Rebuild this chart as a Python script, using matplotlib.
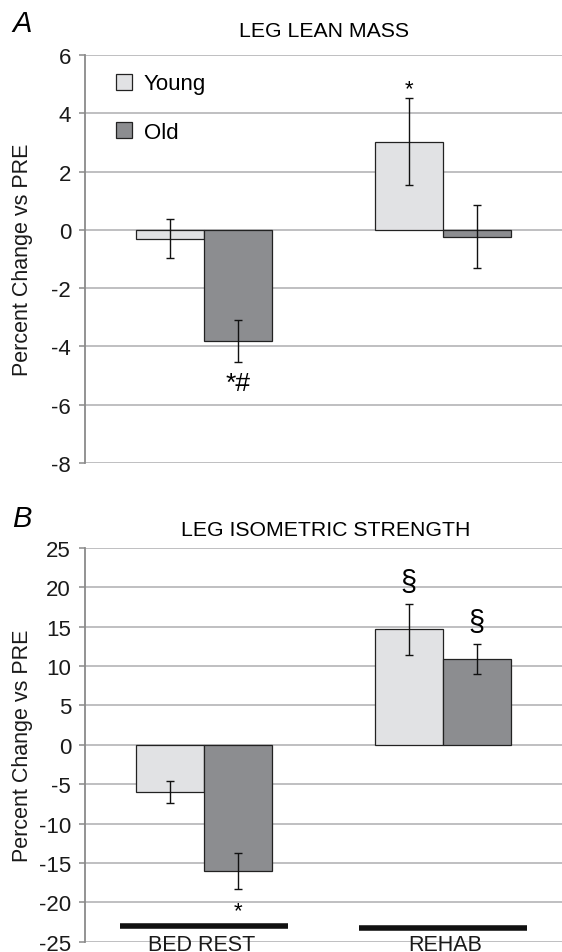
import numpy as np
import matplotlib
matplotlib.use('Agg')
import matplotlib.pyplot as plt
from matplotlib.patches import Patch

plt.rcParams['font.family'] = ['Liberation Sans', 'DejaVu Sans']

groups = ['BED REST', 'REHAB']
series = ['Young', 'Old']

# panel A: leg lean mass (% change vs PRE)
leanYoung = [-0.30, 3.03]
leanOld = [-3.81, -0.24]
leanYoungErr = [0.67, 1.50]
leanOldErr = [0.73, 1.08]

# panel B: leg isometric strength (% change vs PRE)
strYoung = [-6.0, 14.7]
strOld = [-16.0, 10.9]
strYoungErr = [1.4, 3.25]
strOldErr = [2.25, 1.9]

colYoung = '#e1e2e4'
colOld = '#8c8d90'
gridCol = '#aeaeb0'
barW = 0.285

fig = plt.figure(figsize=(5.62, 9.53), dpi=100)
axA = fig.add_axes([0.1512, 0.5131, 0.8488, 0.4281])
axB = fig.add_axes([0.1512, 0.0108, 0.8488, 0.4131])

x = np.arange(len(groups))


def style(ax, ylim, yticks):
    ax.set_xlim(-0.5, 1.5)
    ax.set_ylim(*ylim)
    ax.set_yticks(yticks)
    ax.set_yticklabels([str(t) for t in yticks], fontsize=16)
    ax.set_xticks([])
    ax.set_axisbelow(True)
    ax.grid(axis='y', color=gridCol, lw=1.1)
    for s in ['top', 'right', 'bottom']:
        ax.spines[s].set_visible(False)
    ax.spines['left'].set_color('#8a8a8a')
    ax.spines['left'].set_linewidth(1.3)
    ax.tick_params(axis='y', length=4.5, width=1.1, color='#8a8a8a', pad=5.5, labelcolor='#1a1a1a')
    ax.set_ylabel('Percent Change vs PRE', fontsize=15.5, color='#1a1a1a')
    ax.yaxis.set_label_coords(-0.108, 0.5)


def bars(ax, young, old, ye, oe):
    ax.bar(x - barW / 2, young, barW, color=colYoung, edgecolor='#222222', lw=0.9)
    ax.bar(x + barW / 2, old, barW, color=colOld, edgecolor='#222222', lw=0.9)
    ax.errorbar(x - barW / 2, young, yerr=ye, fmt='none', ecolor='#111111', elinewidth=1, capsize=3, capthick=1)
    ax.errorbar(x + barW / 2, old, yerr=oe, fmt='none', ecolor='#111111', elinewidth=1, capsize=3, capthick=1)


# ---- panel A
style(axA, (-8, 6), [6, 4, 2, 0, -2, -4, -6, -8])
bars(axA, leanYoung, leanOld, leanYoungErr, leanOldErr)
axA.text(x[1] - barW / 2, 4.85, '*', ha='center', va='center', fontsize=16)
axA.text(x[0] + barW / 2, -5.25, '*#', ha='center', va='center', fontsize=19)
handles = [Patch(facecolor=colYoung, edgecolor='#222222', lw=0.9),
           Patch(facecolor=colOld, edgecolor='#222222', lw=0.9)]
axA.legend(handles, series, loc='upper left', bbox_to_anchor=(0.066, 0.955), frameon=False,
           borderaxespad=0, borderpad=0, fontsize=16, handlelength=0.72, handleheight=0.72,
           handletextpad=0.5, labelspacing=1.23)
fig.text(0.577, 0.967, 'LEG LEAN MASS', ha='center', va='center', fontsize=15.3)
fig.text(0.022, 0.975, 'A', ha='left', va='center', fontsize=21, style='italic')

# ---- panel B
style(axB, (-25, 25), [25, 20, 15, 10, 5, 0, -5, -10, -15, -20, -25])
bars(axB, strYoung, strOld, strYoungErr, strOldErr)
axB.text(x[1] - barW / 2, 20.7, '§', ha='center', va='center', fontsize=21)
axB.text(x[1] + barW / 2, 15.6, '§', ha='center', va='center', fontsize=21)
axB.text(x[0] + barW / 2, -21.0, '*', ha='center', va='center', fontsize=16)
for i, g in enumerate(groups):
    axB.plot([x[i] - 0.352, x[i] + 0.352], [-23.05 - 0.15 * i] * 2, color='#111111', lw=4,
             solid_capstyle='butt', clip_on=False)
    axB.text(x[i] - 0.01 + 0.02 * i, -25.4, g, ha='center', va='center', fontsize=15.5,
             clip_on=False, color='#1a1a1a')
fig.text(0.58, 0.443, 'LEG ISOMETRIC STRENGTH', ha='center', va='center', fontsize=15.3)
fig.text(0.022, 0.455, 'B', ha='left', va='center', fontsize=21, style='italic')

fig.savefig('out.png', dpi=100)
